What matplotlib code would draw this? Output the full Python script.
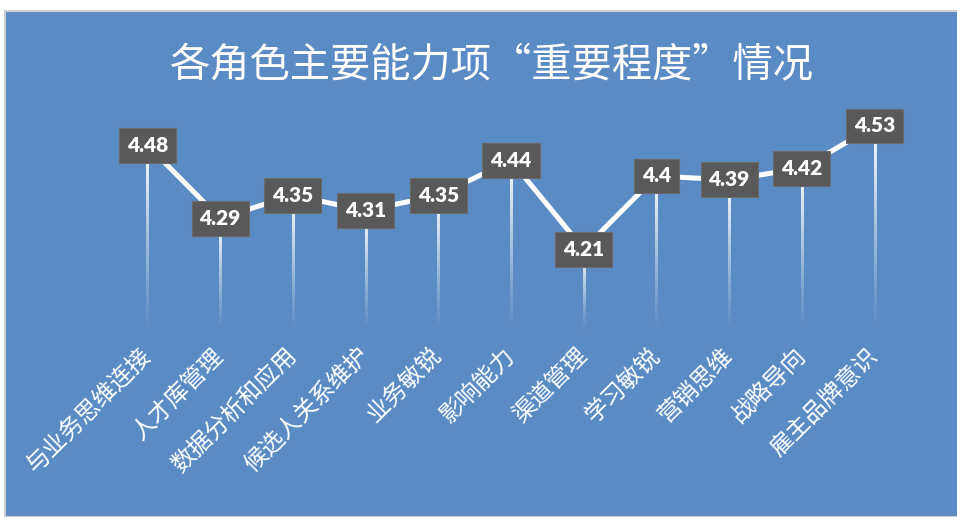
import numpy as np
import matplotlib
matplotlib.use("Agg")
import matplotlib.pyplot as plt
from matplotlib.patches import Rectangle

plt.rcParams['font.family'] = ['Noto Sans CJK SC', 'DejaVu Sans']

# data
abilities = ['与业务思维连接', '人才库管理', '数据分析和应用', '候选人关系维护', '业务敏锐',
             '影响能力', '渠道管理', '学习敏锐', '营销思维', '战略导向', '雇主品牌意识']
scores = [4.48, 4.29, 4.35, 4.31, 4.35, 4.44, 4.21, 4.40, 4.39, 4.42, 4.53]
score_labels = ['4.48', '4.29', '4.35', '4.31', '4.35', '4.44', '4.21', '4.4', '4.39', '4.42', '4.53']
title = '各角色主要能力项“重要程度”情况'

blue = '#5B8BC4'
box_gray = '#595959'

fig = plt.figure(figsize=(9.57, 5.17), dpi=100, facecolor='white')
# blue chart area with thin grey border
fig.patches.append(Rectangle((5 / 957, 0), 1, (517 - 11) / 517, transform=fig.transFigure,
                             facecolor=blue, edgecolor='#cfcfcf', linewidth=1.5, zorder=-10))

ax = fig.add_axes([111 / 957, 1 - 330 / 517, 800 / 957, (330 - 99) / 517])
ax.set_facecolor('none')
ymin, ymax = 4.0, 4.6
x = np.arange(len(scores))

# drop lines: white gradient fading to transparent towards the axis
grad = np.zeros((100, 1, 4))
grad[..., :3] = 1.0
grad[:, 0, 3] = np.linspace(0, 1, 100) ** 1.1
half_w = 0.014
for xi, v in zip(x, scores):
    ax.imshow(grad, extent=(xi - half_w, xi + half_w, ymin, v), origin='lower',
              aspect='auto', interpolation='bilinear', zorder=1)

ax.plot(x, scores, color='white', linewidth=3.6, solid_capstyle='butt', zorder=2)

for xi, v, s in zip(x, scores, score_labels):
    ax.text(xi, v, s, ha='center', va='center', color='white', fontsize=15,
            fontweight='heavy', family=['Lato', 'DejaVu Sans'], zorder=3,
            bbox=dict(boxstyle='square,pad=0.38', facecolor=box_gray, edgecolor='#6a6a6a', linewidth=0.8))

ax.set_ylim(ymin, ymax)
ax.set_xlim(-0.5, len(scores) - 0.5)
ax.set_xticks(x)
ax.set_xticklabels(abilities, rotation=45, ha='right', va='center', rotation_mode='anchor',
                   color='white', fontsize=17)
ax.tick_params(axis='x', length=0, pad=16)
ax.set_yticks([])
for sp in ax.spines.values():
    sp.set_visible(False)

fig.text(0.514, 1 - 65 / 517, title, ha='center', va='center', color='white', fontsize=29)

fig.savefig('out.png', dpi=100, facecolor=fig.get_facecolor())
